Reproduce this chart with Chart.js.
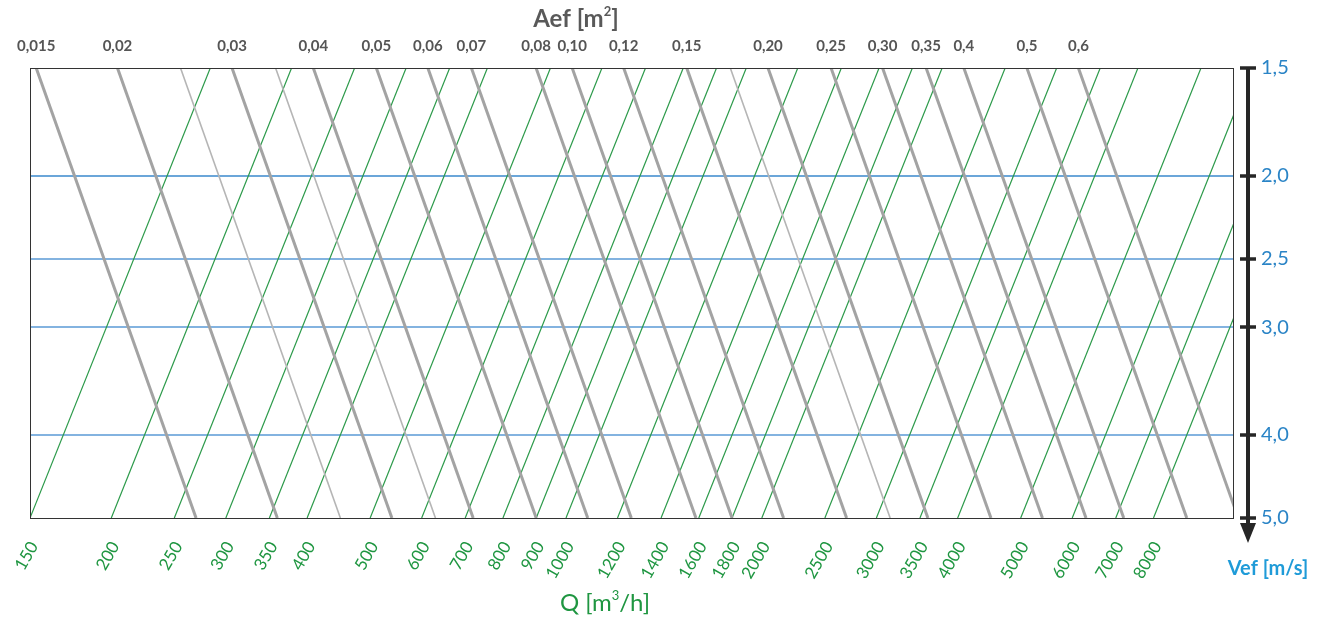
<!DOCTYPE html>
<html>
<head>
<meta charset="utf-8">
<script src="https://cdn.jsdelivr.net/npm/chart.js@4.4.1/dist/chart.umd.min.js"></script>
<style>
  html, body { margin: 0; padding: 0; background: #fff; }
  #wrap { width: 1326px; height: 622px; }
</style>
</head>
<body>
<div id="wrap"><canvas id="nomo"></canvas></div>
<script>
// flow lines Q [m3/h], labelled along the bottom (at Vef = 5,0)
const FLOW_Q = [150, 200, 250, 300, 350, 400, 500, 600, 700, 800, 900, 1000,
    1200, 1400, 1600, 1800, 2000, 2500, 3000, 3500, 4000, 5000, 6000, 7000, 8000];

// effective area lines Aef [m2], labelled along the top (at Vef = 1,5)
// unlabelled ones are the thin intermediate lines
const AEF_VALUES = [0.015, 0.02, 0.025, 0.03, 0.035, 0.04, 0.05, 0.06, 0.07, 0.088,
    0.10, 0.12, 0.15, 0.175, 0.20, 0.25, 0.30, 0.35, 0.4, 0.5, 0.6];
const AEF_LABELS = ["0,015", "0,02", "", "0,03", "", "0,04", "0,05", "0,06", "0,07", "0,08",
    "0,10", "0,12", "0,15", "", "0,20", "0,25", "0,30", "0,35", "0,4", "0,5", "0,6"];

// velocity axis Vef [m/s]
const VEF_TICKS = [1.5, 2.0, 2.5, 3.0, 4.0, 5.0];

const V_TOP = 1.5;
const V_BOTTOM = 5.0;
const Q_MIN = 150;
const Q_MAX = 10600;
// the nomogram is sheared: a flow line moves right as velocity drops
const SHEAR = Math.pow(V_BOTTOM / V_TOP, 0.53);

const GREEN = "#2c9a4a";
const GRAY = "#a3a3a3";
const BLUE_TXT = "#2a84c6";
const FONT = "Lato, 'Open Sans', sans-serif";

function flowLine(q) {
    return [{ x: q, y: V_BOTTOM }, { x: q * SHEAR, y: V_TOP }];
}

function areaLine(a) {
    return [{ x: 3600 * a * V_TOP * SHEAR, y: V_TOP }, { x: 3600 * a * V_BOTTOM, y: V_BOTTOM }];
}

const datasets = [];
AEF_VALUES.forEach((a, i) => {
    const thin = AEF_LABELS[i] === "";
    datasets.push({
        label: "Aef " + a,
        data: areaLine(a),
        borderColor: thin ? "#b5b5b5" : GRAY,
        borderWidth: thin ? 1.6 : 3,
        pointRadius: 0,
        xAxisID: "x",
        yAxisID: "y",
    });
});
FLOW_Q.forEach((q) => {
    datasets.push({
        label: "Q " + q,
        data: flowLine(q),
        borderColor: GREEN,
        borderWidth: 1.2,
        pointRadius: 0,
        xAxisID: "x",
        yAxisID: "y",
    });
});

const labelledAef = AEF_VALUES.filter((a, i) => AEF_LABELS[i] !== "");
const labelledAefText = AEF_LABELS.filter((l) => l !== "");

function drawSup(ctx, parts, cx, baseline) {
    let total = 0;
    parts.forEach((p) => {
        ctx.font = p.font;
        total += ctx.measureText(p.text).width;
    });
    let x = cx - total / 2;
    parts.forEach((p) => {
        ctx.font = p.font;
        ctx.fillText(p.text, x, baseline - (p.rise || 0));
        x += ctx.measureText(p.text).width;
    });
}

const overlay = {
    id: "nomoOverlay",
    beforeDatasetsDraw(chart) {
        // horizontal velocity lines
        const { ctx, chartArea: a, scales } = chart;
        ctx.save();
        VEF_TICKS.forEach((v) => {
            if (v === V_TOP || v === V_BOTTOM) return;
            const py = Math.round(scales.y.getPixelForValue(v));
            ctx.lineWidth = 1.6;
            ctx.strokeStyle = v === 2 ? "#3a88cc" : "#5a9ad6";
            ctx.beginPath();
            ctx.moveTo(a.left, py);
            ctx.lineTo(a.right, py);
            ctx.stroke();
        });
        ctx.restore();
    },
    afterDraw(chart) {
        const { ctx, chartArea: a, scales } = chart;
        const y = scales.y;
        ctx.save();

        // plot frame
        ctx.strokeStyle = "#333";
        ctx.lineWidth = 1;
        ctx.strokeRect(a.left + 0.5, a.top + 0.5, a.right - a.left, a.bottom - a.top);

        // velocity axis with arrow
        const ax = a.right + 15;
        const yTop = y.getPixelForValue(V_TOP);
        const yBot = y.getPixelForValue(V_BOTTOM);
        ctx.strokeStyle = "#262626";
        ctx.fillStyle = "#262626";
        ctx.lineWidth = 4;
        ctx.beginPath();
        ctx.moveTo(ax, yTop);
        ctx.lineTo(ax, yBot + 8);
        ctx.stroke();
        ctx.lineWidth = 3.5;
        VEF_TICKS.forEach((v) => {
            const py = Math.round(y.getPixelForValue(v));
            ctx.beginPath();
            ctx.moveTo(ax - 8, py);
            ctx.lineTo(ax + 8, py);
            ctx.stroke();
        });
        ctx.beginPath();
        ctx.moveTo(ax - 8, yBot + 5);
        ctx.lineTo(ax + 8, yBot + 5);
        ctx.lineTo(ax, yBot + 25);
        ctx.closePath();
        ctx.fill();

        // axis titles
        ctx.textBaseline = "alphabetic";
        ctx.fillStyle = "#595959";
        drawSup(ctx, [
            { text: "Aef [m", font: "bold 24px " + FONT },
            { text: "2", font: "bold 13px " + FONT, rise: 11 },
            { text: "]", font: "bold 24px " + FONT },
        ], 576, 27);

        ctx.fillStyle = "#1f9641";
        drawSup(ctx, [
            { text: "Q [m", font: "24px " + FONT },
            { text: "3", font: "13px " + FONT, rise: 11 },
            { text: "/h]", font: "24px " + FONT },
        ], 605, 611);

        ctx.fillStyle = "#1f9bd8";
        drawSup(ctx, [{ text: "Vef [m/s]", font: "bold 20px " + FONT }], 1268, 575);

        ctx.restore();
    },
};

new Chart(document.getElementById("nomo"), {
    type: "line",
    data: { datasets },
    plugins: [overlay],
    options: {
        responsive: true,
        maintainAspectRatio: false,
        animation: false,
        layout: { padding: { left: 30, top: 0, right: 0, bottom: 0 } },
        plugins: {
            legend: { display: false },
            tooltip: { enabled: false },
        },
        scales: {
            x: {
                type: "logarithmic",
                position: "bottom",
                min: Q_MIN,
                max: Q_MAX,
                afterBuildTicks: (scale) => {
                    scale.ticks = FLOW_Q.map((q) => ({ value: q }));
                },
                afterFit: (scale) => { scale.height = 104; },
                grid: { display: false },
                border: { display: false },
                ticks: {
                    autoSkip: false,
                    minRotation: 60,
                    maxRotation: 60,
                    padding: 12,
                    labelOffset: 4,
                    color: "#1f9641",
                    font: { family: FONT, size: 17 },
                    callback: (v) => String(v),
                },
            },
            xTop: {
                type: "logarithmic",
                position: "top",
                min: Q_MIN,
                max: Q_MAX,
                afterBuildTicks: (scale) => {
                    scale.ticks = labelledAef.map((a) => ({ value: 3600 * a * V_TOP * SHEAR }));
                },
                afterFit: (scale) => { scale.height = 68; },
                grid: { display: false },
                border: { display: false },
                ticks: {
                    autoSkip: false,
                    maxRotation: 0,
                    padding: 5,
                    color: "#555555",
                    font: { family: FONT, size: 15, weight: "bold" },
                    callback: (v, i) => labelledAefText[i],
                },
            },
            y: {
                type: "logarithmic",
                position: "right",
                reverse: true,
                min: V_TOP,
                max: V_BOTTOM,
                afterBuildTicks: (scale) => {
                    scale.ticks = VEF_TICKS.map((v) => ({ value: v }));
                },
                afterFit: (scale) => { scale.width = 93; },
                border: { display: false },
                grid: { display: false, drawTicks: false },
                ticks: {
                    autoSkip: false,
                    padding: 28,
                    color: BLUE_TXT,
                    font: { family: FONT, size: 20 },
                    callback: (v) => v.toFixed(1).replace(".", ","),
                },
            },
        },
    },
});
</script>
</body>
</html>
